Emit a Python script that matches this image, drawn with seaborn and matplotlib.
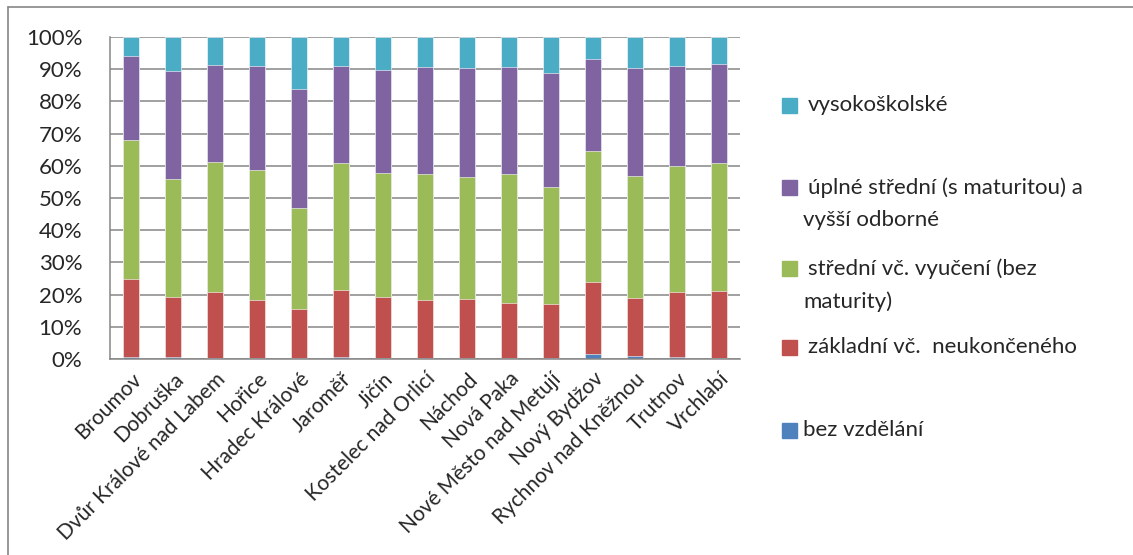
import pandas as pd
import numpy as np
import matplotlib.pyplot as plt
import matplotlib.patches as mpatches
from matplotlib.lines import Line2D
import seaborn as sns

# Data: share of population by education level (%) per town
mesta = ["Broumov", "Dobruška", "Dvůr Králové nad Labem", "Hořice", "Hradec Králové",
         "Jaroměř", "Jičín", "Kostelec nad Orlicí", "Náchod", "Nová Paka",
         "Nové Město nad Metují", "Nový Bydžov", "Rychnov nad Kněžnou", "Trutnov", "Vrchlabí"]
bez_vzdelani = [0.5, 0.5, 0.3, 0.2, 0.2, 0.5, 0.3, 0.4, 0.3, 0.2, 0.2, 1.6, 0.8, 0.5, 0.2]
zakladni = [24.2, 18.7, 20.4, 18.0, 15.2, 20.8, 19.0, 17.8, 18.2, 17.1, 17.0, 22.2, 18.1, 20.2, 20.8]
stredni = [43.2, 36.8, 40.6, 40.6, 31.6, 39.5, 38.5, 39.4, 37.9, 40.3, 36.1, 40.7, 37.8, 39.1, 39.9]
uplne_stredni = [26.1, 33.4, 30.1, 32.2, 36.9, 30.2, 32.1, 33.2, 34.0, 33.2, 35.6, 28.7, 33.8, 31.1, 30.8]
vysokoskolske = [6.0, 10.6, 8.6, 9.0, 16.1, 9.0, 10.1, 9.2, 9.6, 9.2, 11.1, 6.8, 9.5, 9.1, 8.3]

urovne = ["bez vzdělání", "základní vč.  neukončeného", "střední vč. vyučení (bez\nmaturity)",
          "úplné střední (s maturitou) a\nvyšší odborné", "vysokoškolské"]
barvy = ["#4F81BD", "#C0504D", "#9BBB59", "#8064A2", "#4BACC6"]

df = pd.DataFrame({
    "mesto": mesta,
    urovne[0]: bez_vzdelani,
    urovne[1]: zakladni,
    urovne[2]: stredni,
    urovne[3]: uplne_stredni,
    urovne[4]: vysokoskolske,
})

# kumulativni soucty pro skladane sloupce
kum = df[urovne].cumsum(axis=1)
kum["mesto"] = df["mesto"]

sns.set_style("white")
plt.rcParams["font.family"] = ["Lato", "DejaVu Sans"]

fig = plt.figure(figsize=(11.33, 5.55), dpi=100)
ax = fig.add_axes([110 / 1133, 1 - 359 / 555, 630 / 1133, 322 / 555])

# od nejvyssi vrstvy dolu, kazda prekryje predchozi
for uroven, barva in zip(reversed(urovne), reversed(barvy)):
    sns.barplot(data=kum, x="mesto", y=uroven, color=barva, saturation=1,
                width=0.4, ax=ax, order=mesta, edgecolor="#ffffff", linewidth=0.4)

ax.set_xlim(-0.5, len(mesta) - 0.5)
ax.set_ylim(0, 100)
ax.set_yticks(np.arange(0, 101, 10))
ax.set_yticklabels([f"{v}%" for v in range(0, 101, 10)])
ax.set_xlabel("")
ax.set_ylabel("")
ax.set_axisbelow(True)
ax.grid(axis="y", color="#868686", linewidth=1.1)

for s in ["top", "right"]:
    ax.spines[s].set_visible(False)
for s in ["left", "bottom"]:
    ax.spines[s].set_color("#868686")
    ax.spines[s].set_linewidth(1.1)

ax.set_xticks(np.arange(-0.5, len(mesta), 1.0), minor=True)
ax.tick_params(axis="x", which="major", length=0, pad=7)
ax.tick_params(axis="x", which="minor", length=5, width=1.1, color="#868686", direction="out")
ax.tick_params(axis="y", length=6, width=1.1, color="#868686", direction="out", pad=14, labelsize=16)
ax.set_xticks(range(len(mesta)))
ax.set_xticklabels(mesta, rotation=45, ha="right", rotation_mode="anchor", fontsize=15)

# legenda vpravo
leg_y = [105, 187, 268, 347, 430]
for uroven, barva, yy in zip(reversed(urovne), reversed(barvy), leg_y):
    fig.patches.append(mpatches.Rectangle((782 / 1133, 1 - (yy + 8) / 555), 15 / 1133, 15 / 555,
                                          transform=fig.transFigure, color=barva))
    if uroven == "bez vzdělání":
        fig.text(803 / 1133, 1 - (yy - 10) / 555, uroven, fontsize=16, va="top", ha="left")
    else:
        prvni, *dalsi = uroven.split("\n")
        fig.text(808 / 1133, 1 - (yy - 10) / 555, prvni, fontsize=16, va="top", ha="left")
        if dalsi:
            fig.text(803 / 1133, 1 - (yy + 23) / 555, dalsi[0], fontsize=16, va="top", ha="left")

# ramecek grafu
fig.add_artist(Line2D([8 / 1133, 1], [1 - 7 / 555, 1 - 7 / 555], color="#868686", linewidth=1.2))
fig.add_artist(Line2D([8 / 1133, 8 / 1133], [0, 1 - 7 / 555], color="#868686", linewidth=1.2))

fig.savefig("out.png", dpi=100)
